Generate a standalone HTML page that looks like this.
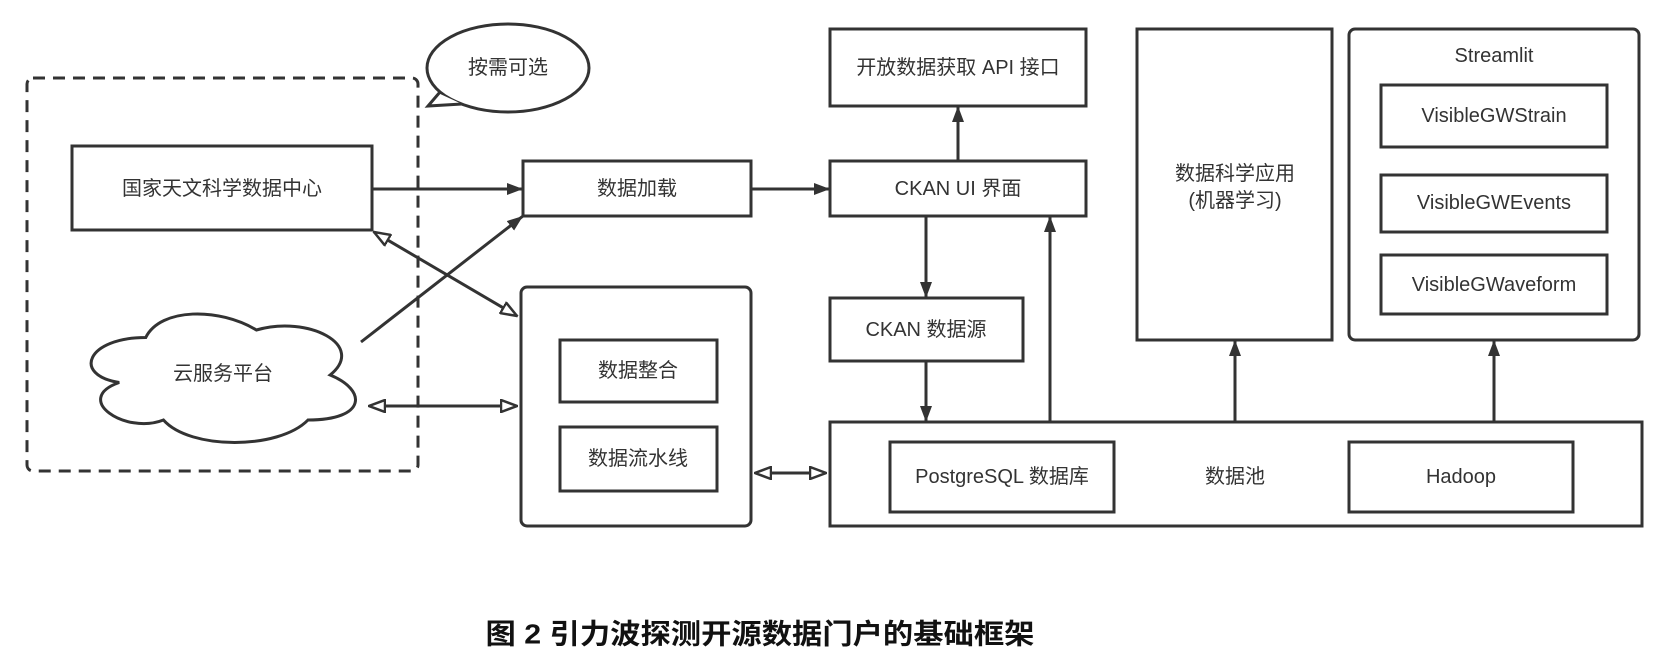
<!DOCTYPE html>
<html><head><meta charset="utf-8"><style>
html,body{margin:0;padding:0;background:#fff;}
svg{display:block;}
text{font-family:"Liberation Sans","Noto Sans CJK SC",sans-serif;font-size:20px;fill:#333;text-anchor:middle;dominant-baseline:central;}
</style></head><body>
<svg width="1666" height="652" viewBox="0 0 1666 652" xmlns="http://www.w3.org/2000/svg">
<defs>
<marker id="f" viewBox="0 0 16 12" refX="16" refY="6" markerWidth="16" markerHeight="12" markerUnits="userSpaceOnUse" orient="auto-start-reverse">
<path d="M0,0 L16,6 L0,12 Z" fill="#333"/></marker>
<marker id="o" viewBox="0 0 18 14" refX="17" refY="7" markerWidth="18" markerHeight="14" markerUnits="userSpaceOnUse" orient="auto-start-reverse">
<path d="M1,1 L17,7 L1,13 Z" fill="#fff" stroke="#333" stroke-width="2.5"/></marker>
</defs>
<g fill="none" stroke="#333" stroke-width="3">
<!-- dashed group -->
<rect x="27" y="78" width="391" height="393" rx="6" stroke-dasharray="12,8"/>
<!-- bubble -->
<ellipse cx="508" cy="68" rx="81" ry="44" fill="#fff"/>
<polygon points="438,93 428,106 462,104" fill="#fff" stroke="none"/>
<polyline points="440,92 428,106 462,104"/>
<!-- boxes -->
<rect x="72" y="146" width="300" height="84" fill="#fff"/>
<path d="M0.25,0.25 C0.05,0.25 0,0.5 0.16,0.55 C0,0.66 0.18,0.9 0.31,0.8 C0.4,1 0.7,1 0.8,0.8 C1,0.8 1,0.6 0.875,0.5 C1,0.3 0.8,0.1 0.625,0.2 C0.5,0.05 0.3,0.05 0.25,0.25 Z" transform="translate(72,300) scale(295,150)" vector-effect="non-scaling-stroke" fill="#fff"/>
<rect x="523" y="161" width="228" height="55"/>
<rect x="830" y="161" width="256" height="55"/>
<rect x="830" y="29" width="256" height="77"/>
<rect x="830" y="298" width="193" height="63"/>
<rect x="830" y="422" width="812" height="104"/>
<rect x="890" y="442" width="224" height="70"/>
<rect x="1349" y="442" width="224" height="70"/>
<rect x="521" y="287" width="230" height="239" rx="6"/>
<rect x="560" y="340" width="157" height="62"/>
<rect x="560" y="427" width="157" height="64"/>
<rect x="1137" y="29" width="195" height="311"/>
<rect x="1349" y="29" width="290" height="311" rx="6"/>
<rect x="1381" y="85" width="226" height="62"/>
<rect x="1381" y="175" width="226" height="57"/>
<rect x="1381" y="255" width="226" height="59"/>
<!-- arrows -->
<line x1="372" y1="189" x2="523" y2="189" marker-end="url(#f)"/>
<line x1="751" y1="189" x2="830" y2="189" marker-end="url(#f)"/>
<line x1="361" y1="342" x2="523" y2="216" marker-end="url(#f)"/>
<line x1="374" y1="232" x2="517" y2="316" marker-start="url(#o)" marker-end="url(#o)"/>
<line x1="369" y1="406" x2="517" y2="406" marker-start="url(#o)" marker-end="url(#o)"/>
<line x1="755" y1="473" x2="826" y2="473" marker-start="url(#o)" marker-end="url(#o)"/>
<line x1="958" y1="161" x2="958" y2="106" marker-end="url(#f)"/>
<line x1="926" y1="216" x2="926" y2="298" marker-end="url(#f)"/>
<line x1="926" y1="361" x2="926" y2="422" marker-end="url(#f)"/>
<line x1="1050" y1="422" x2="1050" y2="216" marker-end="url(#f)"/>
<line x1="1235" y1="422" x2="1235" y2="340" marker-end="url(#f)"/>
<line x1="1494" y1="422" x2="1494" y2="340" marker-end="url(#f)"/>
</g>
<text x="508" y="68">按需可选</text>
<text x="222" y="189">国家天文科学数据中心</text>
<text x="223" y="374">云服务平台</text>
<text x="637" y="189">数据加载</text>
<text x="958" y="189">CKAN UI 界面</text>
<text x="958" y="68">开放数据获取 API 接口</text>
<text x="926" y="330">CKAN 数据源</text>
<text x="638" y="371">数据整合</text>
<text x="638" y="459">数据流水线</text>
<text x="1002" y="477">PostgreSQL 数据库</text>
<text x="1235" y="477">数据池</text>
<text x="1461" y="477">Hadoop</text>
<text x="1235" y="174">数据科学应用</text>
<text x="1235" y="201">(机器学习)</text>
<text x="1494" y="56">Streamlit</text>
<text x="1494" y="116">VisibleGWStrain</text>
<text x="1494" y="203">VisibleGWEvents</text>
<text x="1494" y="285">VisibleGWaveform</text>
<text x="760" y="634" style="font-size:28px;font-weight:bold;fill:#111" textLength="549" lengthAdjust="spacingAndGlyphs">图 2 引力波探测开源数据门户的基础框架</text>
</svg>
</body></html>
